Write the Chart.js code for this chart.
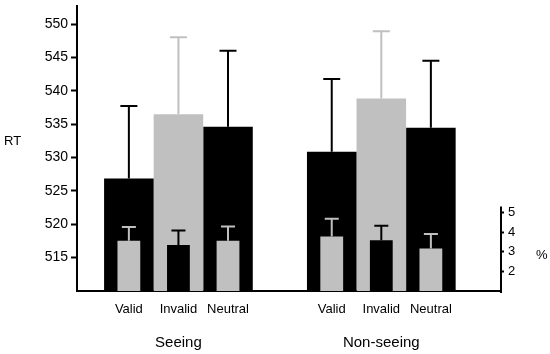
<!DOCTYPE html>
<html>
<head>
<meta charset="utf-8">
<script src="https://cdn.jsdelivr.net/npm/chart.js@4/dist/chart.umd.min.js"></script>
<style>
  html, body { margin: 0; padding: 0; background: #ffffff; }
  #wrap { width: 550px; height: 354px; }
</style>
</head>
<body>
<div id="wrap"><canvas id="c" width="550" height="354"></canvas></div>
<script>
// ---- data ----
const groups = ['Seeing', 'Non-seeing'];
const conditions = ['Valid', 'Invalid', 'Neutral'];
// reaction times (ms) and their error bars
const rtValid   = [526.85, 530.85];
const rtInvalid = [536.5, 538.85];
const rtNeutral = [534.6, 534.45];
const rtErrValid   = [10.85, 10.9];
const rtErrInvalid = [11.5, 10.05];
const rtErrNeutral = [11.4, 10.05];
// error rates (%) and their error bars
const pctValid   = [3.57, 3.79];
const pctInvalid = [3.35, 3.60];
const pctNeutral = [3.57, 3.18];
const pctErrValid   = [0.70, 0.90];
const pctErrInvalid = [0.75, 0.74];
const pctErrNeutral = [0.73, 0.73];
// tick labels
const rtTicks = [515, 520, 525, 530, 535, 540, 545, 550];
const pctTicks = [2, 3, 4, 5];

const BLACK = '#000000';
const GRAY = '#c0c0c0';
const FONT = "'Liberation Sans', Arial, sans-serif";

const pts = arr => arr.map((v, i) => ({ x: i + 1, y: v }));

function outer(idx, vals, errs, color) {
  return { label: conditions[idx], data: pts(vals), errs, backgroundColor: color, errColor: color,
    stack: 's' + idx, xAxisID: 'x', yAxisID: 'y', categoryPercentage: 0.733, barPercentage: 1.0,
    capWidth: 17, order: 2, sub: conditions[idx] };
}
function inner(idx, vals, errs, color) {
  return { label: conditions[idx] + ' %', data: pts(vals), errs, backgroundColor: color, errColor: color,
    stack: 's' + idx, xAxisID: 'x', yAxisID: 'y2', categoryPercentage: 0.733, barPercentage: 0.46,
    capWidth: 14, order: 1 };
}

const datasets = [
  outer(0, rtValid, rtErrValid, BLACK),
  outer(1, rtInvalid, rtErrInvalid, GRAY),
  outer(2, rtNeutral, rtErrNeutral, BLACK),
  inner(0, pctValid, pctErrValid, GRAY),
  inner(1, pctInvalid, pctErrInvalid, BLACK),
  inner(2, pctNeutral, pctErrNeutral, GRAY)
];

const errorBars = {
  id: 'errorBars',
  afterDatasetsDraw(chart) {
    const ctx = chart.ctx;
    ctx.save();
    chart.data.datasets.forEach((ds, i) => {
      const meta = chart.getDatasetMeta(i);
      const ys = chart.scales[ds.yAxisID];
      meta.data.forEach((el, j) => {
        const v = ds.data[j].y, e = ds.errs[j];
        const yTop = ys.getPixelForValue(v + e);
        ctx.strokeStyle = ds.errColor;
        ctx.lineWidth = 2;
        ctx.beginPath();
        ctx.moveTo(el.x, el.y);
        ctx.lineTo(el.x, yTop);
        ctx.moveTo(el.x - ds.capWidth / 2, yTop);
        ctx.lineTo(el.x + ds.capWidth / 2, yTop);
        ctx.stroke();
      });
    });
    ctx.restore();
  }
};

const extras = {
  id: 'extras',
  afterDraw(chart) {
    const ctx = chart.ctx;
    const ca = chart.chartArea;
    ctx.save();
    // sub-category labels below each bar
    ctx.fillStyle = '#000';
    ctx.font = '13px ' + FONT;
    ctx.textAlign = 'center';
    ctx.textBaseline = 'middle';
    chart.data.datasets.forEach((ds, i) => {
      if (!ds.sub) return;
      chart.getDatasetMeta(i).data.forEach(el => {
        ctx.fillText(ds.sub, el.x, ca.bottom + 18);
      });
    });
    // axis titles
    ctx.font = '13px ' + FONT;
    ctx.textAlign = 'left';
    ctx.fillText('RT', 4, 141);
    const y2 = chart.scales.y2;
    ctx.fillText('%', 536, y2.getPixelForValue(2.8));
    // partial right axis line
    ctx.strokeStyle = '#000';
    ctx.lineWidth = 2;
    ctx.beginPath();
    ctx.moveTo(y2.left, y2.getPixelForValue(1) + 2);
    ctx.lineTo(y2.left, y2.getPixelForValue(5.32));
    ctx.stroke();
    ctx.restore();
  }
};

new Chart(document.getElementById('c'), {
  type: 'bar',
  data: { datasets },
  plugins: [errorBars, extras],
  options: {
    responsive: false,
    animation: false,
    layout: { padding: { top: 6, left: 0, right: 0, bottom: 0 } },
    plugins: { legend: { display: false }, tooltip: { enabled: false } },
    scales: {
      x: {
        type: 'linear', position: 'bottom', min: 0.5, max: 2.59, offset: false,
        afterBuildTicks: s => { s.ticks = groups.map((g, i) => ({ value: i + 1 })); },
        afterFit: s => { s.height = 63; s.paddingLeft = 0; s.paddingRight = 0; },
        grid: { display: false, drawTicks: false },
        border: { display: true, color: '#000', width: 2 },
        ticks: {
          autoSkip: false, maxRotation: 0, padding: 43, color: '#000',
          font: { family: FONT, size: 15 },
          callback: v => groups[Math.round(v) - 1] || ''
        }
      },
      y: {
        type: 'linear', position: 'left', min: 510, max: 552.7, stacked: false,
        afterBuildTicks: s => { s.ticks = rtTicks.map(v => ({ value: v })); },
        afterFit: s => { s.width = 77; s.paddingTop = 0; s.paddingBottom = 0; },
        grid: { display: true, drawOnChartArea: false, drawTicks: true, tickLength: 6, tickWidth: 2, tickColor: '#000' },
        border: { display: true, color: '#000', width: 2 },
        ticks: { padding: 3, color: '#000', font: { family: FONT, size: 14 } }
      },
      y2: {
        type: 'linear', position: 'right', min: 1, max: 15.58, stacked: false,
        afterBuildTicks: s => { s.ticks = pctTicks.map(v => ({ value: v })); },
        afterFit: s => { s.width = 49; s.paddingTop = 0; s.paddingBottom = 0; },
        grid: { display: true, drawOnChartArea: false, drawTicks: true, tickLength: 3, tickWidth: 2, tickColor: '#000' },
        border: { display: false },
        ticks: { padding: 4, color: '#000', font: { family: FONT, size: 13 } }
      }
    }
  }
});
</script>
</body>
</html>
